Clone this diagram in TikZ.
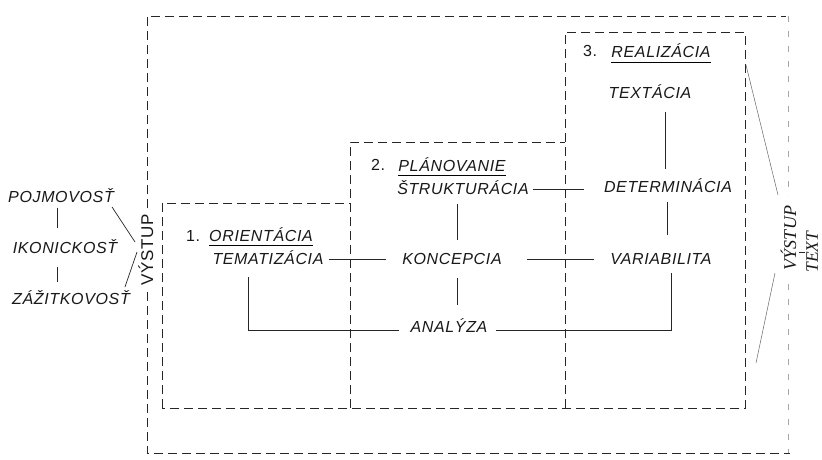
\documentclass[tikz,border=0pt]{standalone}
\usepackage{fontspec}
\setmainfont{Liberation Sans}[LetterSpace=4]
\newfontfamily\vyserif{Liberation Serif}
\usetikzlibrary{calc}
\tikzset{
  lbl/.style={inner sep=0pt, font=\fontsize{16}{16}\selectfont\itshape, text height=11.5pt, text depth=0pt, text=black!90},
  num/.style={inner sep=0pt, font=\fontsize{16}{16}\selectfont, text height=11.5pt, text depth=0pt, text=black!90},
  vlblL/.style={inner sep=0pt, font=\fontsize{17}{17}\selectfont, text height=12pt, text depth=0pt, rotate=90, text=black!90},
  vlblR/.style={inner sep=0pt, font=\vyserif\fontsize{18}{18}\selectfont\itshape, text height=12pt, text depth=0pt, rotate=90, text=black!90},
  vlblT/.style={inner sep=0pt, font=\vyserif\fontsize{17.5}{17.5}\selectfont\itshape, text height=11.5pt, text depth=0pt, rotate=90, text=black!90},
  frame/.style={draw=black!85, line width=0.8pt, dash pattern=on 9pt off 5pt},
  faintframe/.style={draw=black!35, line width=0.6pt, dash pattern=on 6pt off 9pt},
  conn/.style={draw=black!85, line width=0.7pt},
  uline/.style={draw=black, line width=1pt},
  thinconn/.style={draw=black!60, line width=0.5pt},
}
\begin{document}
\begin{tikzpicture}[x=1pt,y=-1pt]
\useasboundingbox[fill=white] (0,0) rectangle (822,460);

% outer frame
\draw[frame] (147,208) -- (147,16) -- (786,16);
\draw[frame] (147,292) -- (147,453) -- (790,453);
\draw[faintframe] (788,16) -- (788,196);
\draw[faintframe] (788,284) -- (788,453);

% stair frames
\draw[frame] (162,408) -- (162,203) -- (350,203);
\draw[frame] (350,408) -- (350,142) -- (565,142);
\draw[frame] (565,408) -- (565,32) -- (745,32) -- (745,408) -- (162,408);

% left group
\node[lbl] (pojm) at (61,197) {POJMOVOSŤ};
\node[lbl] (ikon) at (65,248) {IKONICKOSŤ};
\node[lbl] (zaz) at (71,299) {ZÁŽITKOVOSŤ};
\node[vlblL] (vyL) at (147,250) {VÝSTUP};

% box 1
\node[num] (n1) at (193,236) {1.};
\node[lbl] (ori) at (261,236) {ORIENTÁCIA};
\node[lbl] (tema) at (268,259) {TEMATIZÁCIA};

% box 2
\node[num] (n2) at (378,165) {2.};
\node[lbl] (plan) at (452,166) {PLÁNOVANIE};
\node[lbl] (strk) at (463,189) {ŠTRUKTURÁCIA};
\node[lbl] (konc) at (452,259) {KONCEPCIA};
\node[lbl] (ana) at (449,327) {ANALÝZA};

% box 3
\node[num] (n3) at (590,51) {3.};
\node[lbl] (real) at (661,52) {REALIZÁCIA};
\node[lbl] (textc) at (650,93) {TEXTÁCIA};
\node[lbl] (det) at (668,187) {DETERMINÁCIA};
\node[lbl] (var) at (661,259) {VARIABILITA};

% right output
\node[vlblR] (vyR) at (790,238) {VÝSTUP};
\node[vlblT] (txt) at (812,252) {TEXT};

% underlines
\draw[uline] ($(ori.south west)+(0,4)$) -- ($(ori.south east)+(0,4)$);
\draw[uline] ($(plan.south west)+(0,4)$) -- ($(plan.south east)+(0,4)$);
\draw[uline] ($(real.south west)+(0,5)$) -- ($(real.south east)+(0,5)$);

% helper columns
\coordinate (lx) at (57,0);
\coordinate (mx) at (457,0);
\coordinate (rx) at (665,0);
\coordinate (rx2) at (667,0);
\coordinate (lL) at (248,0);
\coordinate (rR) at (671,0);
\coordinate (s1) at (746,65);
\coordinate (s2) at (756,363);

% left group connectors
\draw[conn] ($(pojm.south -| lx)+(0,5)$) -- ($(ikon.north -| lx)+(0,-14)$);
\draw[conn] ($(ikon.south -| lx)+(0,13)$) -- ($(zaz.north -| lx)+(0,-11)$);
\draw[conn] ($(pojm.south east)+(-2,4)$) -- ($(vyL.center)+(-12,-8)$);
\draw[conn] ($(zaz.north east)+(-5,-6)$) -- ($(vyL.center)+(-10,2)$);

% horizontal connectors
\draw[conn] ($(tema.east)+(5,0)$) -- ($(konc.west)+(-16,0)$);
\draw[conn] ($(konc.east)+(25,0)$) -- ($(var.west)+(-16,0)$);
\draw[conn] ($(strk.east)+(4,0)$) -- ($(det.west |- strk.east)+(-20,0)$);

% vertical connectors
\draw[conn] ($(strk.south -| mx)+(0,9)$) -- ($(konc.north -| mx)+(0,-13)$);
\draw[conn] ($(konc.south -| mx)+(0,13)$) -- ($(ana.north -| mx)+(0,-16)$);
\draw[conn] ($(textc.south -| rx)+(0,13)$) -- ($(det.north -| rx)+(0,-12)$);
\draw[conn] ($(det.south -| rx2)+(0,9)$) -- ($(var.north -| rx2)+(0,-18)$);

% analysis links
\draw[conn] ($(tema.south -| lL)+(0,12)$) |- ($(ana.west)+(-11,3)$);
\draw[conn] ($(ana.east)+(8,3)$) -| ($(var.south -| rR)+(0,8)$);

% right side
\draw[thinconn] (s1) -- ($(vyR.center)+(-12,-43)$);
\draw[thinconn] (s2) -- ($(vyR.center)+(-15,35)$);
\draw[conn] ($(vyR.south |- txt.center)+(3,0)$) -- ($(txt.north)+(-1,0)$);
\end{tikzpicture}
\end{document}
